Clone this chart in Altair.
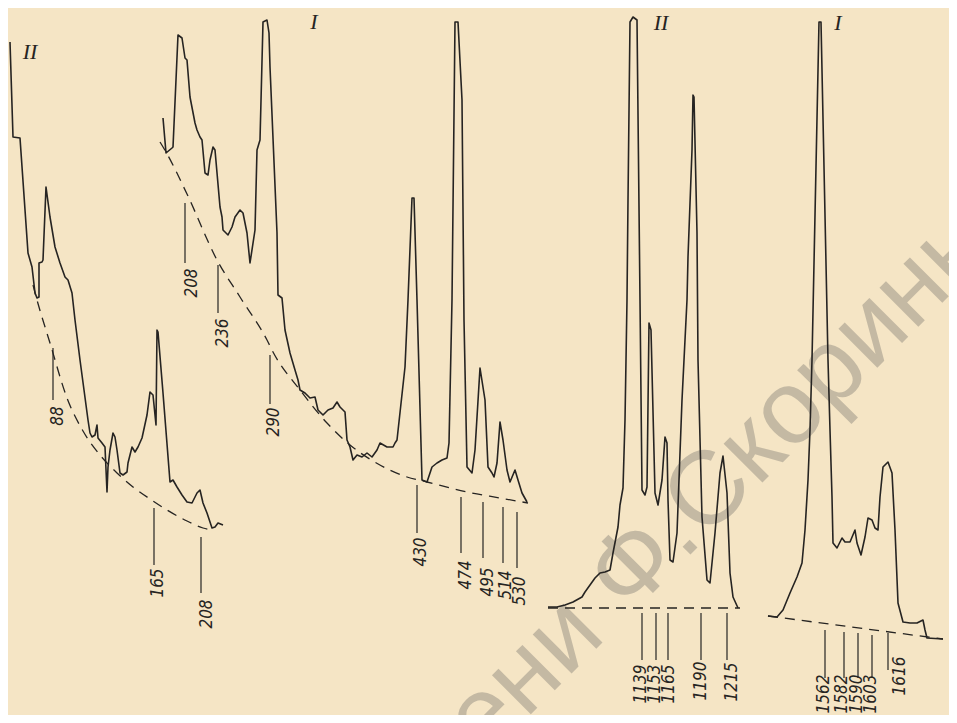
import altair as alt
import pandas as pd

# ---------------- data (page pixel units) ----------------
# Spectrum II, low-frequency region (left)
A_x = [10, 13, 20, 28, 32, 35, 37, 39, 39, 42, 43, 46, 50, 55, 60, 65, 68, 72, 75, 80, 88, 90, 92, 95, 97, 98,
       102, 105, 107, 108, 110, 113, 115, 117, 120, 123, 127, 128, 132, 135, 138, 142, 147, 150, 153, 156, 157,
       158, 163, 170, 173, 177, 182, 187, 192, 197, 200, 203, 207, 212, 215, 218, 223]
A_y = [42, 137, 138, 253, 267, 293, 298, 297, 263, 262, 260, 187, 217, 247, 263, 277, 280, 293, 320, 360, 420, 433,
       437, 435, 425, 438, 443, 447, 492, 467, 450, 433, 437, 450, 473, 475, 472, 463, 447, 452, 447, 438, 415,
       392, 395, 425, 330, 332, 393, 482, 480, 487, 495, 502, 503, 493, 490, 503, 513, 528, 527, 523, 525]
A_base_x = [33, 37, 50, 67, 83, 100, 117, 133, 150, 167, 187, 203, 213]
A_base_y = [285, 300, 343, 398, 431, 455, 473, 487, 499, 510, 521, 528, 530]

# Spectrum I, low-frequency region
B_x = [163, 166, 172, 173, 178, 182, 185, 187, 190, 195, 197, 200, 202, 205, 208, 210, 213, 215, 220, 222, 223,
       228, 232, 235, 240, 243, 247, 250, 255, 257, 260, 263, 267, 269, 270, 277, 278, 282, 285, 290, 295, 298,
       300, 305, 310, 315, 318, 323, 328, 333, 337, 340, 345, 347, 350, 353, 357, 362, 367, 372, 377, 380, 387,
       393, 395, 397, 405, 408, 412, 414, 417, 422, 427, 432, 437, 442, 447, 449, 452, 455, 458, 462, 464, 467,
       472, 475, 480, 485, 488, 492, 494, 497, 500, 503, 507, 510, 515, 518, 522, 527]
B_y = [118, 153, 148, 147, 35, 38, 58, 60, 97, 123, 130, 137, 140, 173, 175, 160, 147, 150, 207, 217, 230,
       235, 227, 217, 210, 213, 233, 263, 230, 150, 140, 22, 20, 33, 67, 233, 295, 298, 330, 353, 370, 380,
       390, 393, 398, 397, 410, 415, 410, 408, 402, 407, 412, 440, 447, 460, 455, 457, 453, 457, 450, 443, 447,
       447, 443, 440, 367, 300, 198, 198, 300, 480, 482, 467, 463, 460, 458, 443, 300, 22, 22, 100, 320, 467,
       473, 450, 368, 400, 467, 473, 477, 463, 422, 440, 470, 482, 470, 480, 493, 502]
B_base_x = [160, 166, 187, 217, 240, 267, 273, 300, 327, 350, 373, 407, 427, 467, 500, 528]
B_base_y = [142, 152, 194, 260, 297, 340, 352, 390, 423, 445, 461, 477, 482, 492, 498, 503]

# Spectrum II, 1100-1250 region
C_x = [548, 557, 565, 573, 582, 585, 590, 595, 600, 605, 610, 613, 618, 620, 623, 625, 627, 628, 630, 633, 637,
       640, 642, 645, 647, 649, 651, 655, 658, 662, 665, 667, 668, 670, 673, 677, 682, 687, 688, 692, 693, 694,
       697, 698, 702, 707, 710, 715, 720, 723, 727, 730, 733, 738]
C_y = [607, 607, 605, 602, 597, 592, 585, 578, 573, 572, 570, 553, 527, 505, 488, 420, 300, 200, 22, 17, 20,
       300, 490, 495, 487, 323, 330, 493, 505, 480, 437, 443, 500, 560, 562, 533, 400, 300, 257, 150, 95, 97,
       233, 360, 517, 580, 583, 533, 473, 456, 493, 573, 597, 608]
C_base_x = [548, 740]
C_base_y = [608, 608]

# Spectrum I, 1550-1620 region
D_x = [768, 777, 783, 790, 797, 802, 805, 808, 810, 812, 819, 821, 828, 830, 832, 833, 837, 842, 845, 850, 855,
       857, 861, 865, 868, 872, 875, 878, 880, 883, 888, 892, 895, 898, 903, 910, 917, 923, 925, 927, 943]
D_y = [616, 617, 610, 593, 577, 563, 530, 480, 430, 360, 22, 22, 360, 430, 497, 543, 548, 538, 542, 542, 530,
       543, 555, 537, 518, 520, 528, 530, 497, 467, 462, 473, 530, 603, 622, 623, 623, 620, 630, 638, 639]
D_base_x = [768, 943]
D_base_y = [616, 639]

# peak marker lines and their labels
tick_labels = ["88", "165", "208",
               "208", "236", "290", "430", "474", "495", "514", "530",
               "1139", "1153", "1165", "1190", "1215",
               "1562", "1582", "1590", "1603", "1616"]
tick_x = [53, 154, 201,
          185, 218, 270, 417, 461, 483, 503, 517,
          642, 656, 668, 701, 727,
          825, 844, 858, 872, 888]
tick_y1 = [348, 508, 537,
           203, 265, 355, 485, 497, 502, 507, 512,
           613, 613, 613, 613, 613,
           630, 632, 633, 635, 633]
tick_y2 = [400, 565, 593,
           263, 313, 404, 533, 553, 558, 563, 568,
           660, 660, 660, 660, 660,
           678, 678, 678, 678, 670]
label_x = [58, 158, 207,
           192, 223, 274, 421, 466, 488, 506, 520,
           641, 655, 669, 701, 732,
           824, 842, 857, 871, 900]
label_y = [416, 583, 614,
           283, 333, 422, 552, 575, 582, 585, 591,
           684, 684, 684, 681, 682,
           694, 694, 694, 694, 676]

# spectrum numbers
roman = ["II", "I", "II", "I"]
roman_x = [30, 314, 661, 838]
roman_y = [52, 22, 23, 23]

watermark = ["имени Ф.Скорины"]

# ---------------- frames ----------------
W, H = 941, 707

def trace(xs, ys, name):
    return pd.DataFrame({"x": xs, "y": ys, "s": name, "i": range(len(xs))})

lines = pd.concat([trace(A_x, A_y, "A"), trace(B_x, B_y, "B"),
                   trace(C_x, C_y, "C"), trace(D_x, D_y, "D")])
bases = pd.concat([trace(A_base_x, A_base_y, "A"), trace(B_base_x, B_base_y, "B"),
                   trace(C_base_x, C_base_y, "C"), trace(D_base_x, D_base_y, "D")])
ticks = pd.DataFrame({"x": tick_x, "y": tick_y1, "y2": tick_y2,
                      "lx": label_x, "ly": label_y, "t": tick_labels})
romans = pd.DataFrame({"x": roman_x, "y": roman_y, "t": roman})
wm = pd.DataFrame({"x": [700], "y": [545], "t": watermark})

xs = alt.Scale(domain=[8, 8 + W], nice=False, zero=False)
ys = alt.Scale(domain=[8 + H, 8], nice=False, zero=False)
ink = "#262422"

wm_layer = alt.Chart(wm).mark_text(
    angle=315, align="center", baseline="alphabetic", fontSize=104,
    font="Liberation Sans", color="#8a857b", opacity=0.45, clip=True
).encode(x=alt.X("x:Q", scale=xs, axis=None), y=alt.Y("y:Q", scale=ys, axis=None), text="t:N")

line_layer = alt.Chart(lines).mark_line(color=ink, strokeWidth=1.6, strokeJoin="round").encode(
    x=alt.X("x:Q", scale=xs, axis=None), y=alt.Y("y:Q", scale=ys, axis=None),
    detail="s:N", order="i:Q")

base_layer = alt.Chart(bases).mark_line(color=ink, strokeWidth=1.3, strokeDash=[10, 7],
                                        interpolate="monotone").encode(
    x=alt.X("x:Q", scale=xs, axis=None), y=alt.Y("y:Q", scale=ys, axis=None),
    detail="s:N", order="i:Q")

tick_layer = alt.Chart(ticks).mark_rule(color=ink, strokeWidth=1.2).encode(
    x=alt.X("x:Q", scale=xs, axis=None), y=alt.Y("y:Q", scale=ys, axis=None), y2="y2:Q")

label_layer = alt.Chart(ticks).mark_text(
    angle=270, align="center", baseline="middle", fontSize=17, fontStyle="italic",
    font="'Liberation Sans Narrow', 'DejaVu Sans Condensed', 'Liberation Sans', sans-serif",
    color=ink
).encode(x=alt.X("lx:Q", scale=xs, axis=None), y=alt.Y("ly:Q", scale=ys, axis=None), text="t:N")

roman_layer = alt.Chart(romans).mark_text(
    align="center", baseline="middle", fontSize=22, fontStyle="italic",
    font="Liberation Serif", color=ink
).encode(x=alt.X("x:Q", scale=xs, axis=None), y=alt.Y("y:Q", scale=ys, axis=None), text="t:N")

chart = alt.layer(wm_layer, base_layer, tick_layer, line_layer, label_layer, roman_layer).properties(
    width=W, height=H, padding=0, autosize=alt.AutoSizeParams(type="none"),
    background="#f5e5c5"
).configure_view(stroke=None)

chart.save("out.html", embed_options={"renderer": "svg", "actions": False})
